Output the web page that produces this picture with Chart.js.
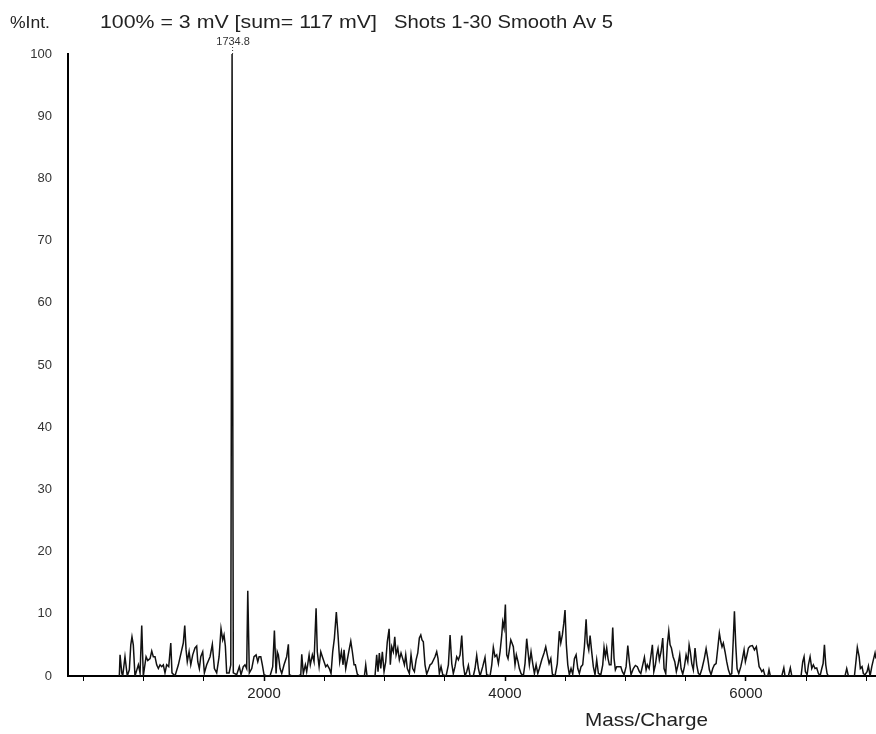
<!DOCTYPE html>
<html>
<head>
<meta charset="utf-8">
<script src="https://cdn.jsdelivr.net/npm/chart.js@4.4.1/dist/chart.umd.min.js"></script>
<style>
  html, body { margin: 0; padding: 0; background: #fff; }
  canvas { display: block; }
</style>
</head>
<body>
<canvas id="c" width="876" height="734"></canvas>
<script>
// ---- data ----
const headerLeft = '%Int.';
const headerMain = '100% = 3 mV [sum= 117 mV]';
const headerShots = 'Shots 1-30 Smooth Av 5';
const xAxisTitle = 'Mass/Charge';
const peakMass = 1734.8;
const xMin = 373, xMax = 7079;
const yTicks = [0, 10, 20, 30, 40, 50, 60, 70, 80, 90, 100];
const xTicks = [500, 1000, 1500, 2000, 2500, 3000, 3500, 4000, 4500, 5000, 5500, 6000, 6500, 7000];
const xLabelTicks = [2000, 4000, 6000];

const masses = [
 799,805,819,827,846,865,882,894,904,915,929,957,971,985,998,1021,1035,1054,1068,1081,
 1095,1109,1123,1137,1151,1164,1178,1192,1209,1226,1236,1261,1289,1317,1330,1342,1353,1363,1378,1392,
 1408,1427,1441,1450,1463,1475,1491,1505,1524,1552,1571,1588,1607,1627,1643,1657,1668,1679,1690,1710,
 1724,1734.8,1745,1773,1795,1809,1828,1842,1856,1865,1878,1898,1917,1934,1948,1959,1973,1986,2000,2022,
 2050,2072,2086,2100,2110,2119,2133,2147,2166,2188,2202,2210,2230,2285,2305,2313,2326,2343,2354,2374,
 2384,2401,2415,2432,2442,2457,2471,2484,2498,2512,2525,2542,2556,2570,2584,2600,2614,2628,2642,2656,
 2664,2678,2691,2706,2720,2733,2747,2758,2774,2791,2833,2844,2855,2921,2935,2946,2957,2969,2982,2996,
 3010,3023,3038,3048,3060,3073,3085,3096,3110,3123,3137,3151,3165,3176,3189,3206,3220,3234,3248,3262,
 3276,3289,3301,3311,3322,3336,3350,3364,3378,3392,3419,3433,3444,3455,3469,3483,3511,3530,3544,3558,
 3571,3585,3599,3613,3627,3641,3654,3668,3682,3696,3710,3737,3751,3765,3779,3793,3815,3834,3848,3876,
 3890,3903,3917,3931,3945,3959,3973,3981,3992,4003,4014,4025,4036,4048,4058,4069,4083,4094,4108,4119,
 4133,4152,4166,4180,4191,4202,4216,4230,4244,4258,4272,4285,4305,4324,4338,4351,4366,4380,4393,4415,
 4434,4451,4463,4476,4488,4498,4509,4521,4534,4548,4562,4576,4590,4604,4617,4631,4645,4659,4673,4683,
 4695,4706,4720,4733,4747,4761,4775,4795,4811,4822,4833,4844,4855,4866,4880,4894,4905,4916,4927,4944,
 4961,4974,4988,5005,5019,5032,5046,5065,5082,5098,5115,5127,5143,5157,5171,5181,5196,5210,5223,5235,
 5248,5259,5270,5281,5295,5309,5320,5334,5347,5359,5370,5381,5395,5409,5422,5436,5450,5461,5475,5489,
 5503,5517,5528,5538,5550,5563,5577,5591,5605,5619,5635,5654,5669,5683,5696,5710,5724,5738,5752,5766,
 5779,5791,5801,5812,5826,5840,5854,5868,5882,5895,5904,5915,5926,5940,5957,5970,5984,5995,6006,6020,
 6034,6053,6070,6086,6098,6109,6119,6131,6144,6158,6181,6191,6202,6297,6314,6324,6352,6368,6380,6457,
 6471,6482,6493,6507,6518,6532,6546,6559,6573,6587,6601,6615,6629,6640,6651,6662,6673,6684,6822,6836,
 6850,6900,6914,6924,6939,6949,6963,6974,6988,7005,7016,7030,7044,7057,7071,7079
];
const intensities = [
 0,3.4,0.5,0,3.1,0,1,5,6.3,5,0,1.8,0.5,8.1,0,3.1,2.5,2.8,4,3.1,
 3.1,1.8,1.2,1.8,1.5,1.8,0.5,1.8,1.5,5.3,0.5,0,1.8,4.2,5.3,8.1,4.2,2.3,3.9,1.8,
 3.4,4.5,4.8,2.3,1.2,3.1,3.9,0.5,1.8,3.1,5.1,1.2,0.5,3.1,7.6,5.8,6.6,4.8,0.5,0.5,
 1.8,100,0.5,0.2,1.5,0.2,1.5,1.8,1.2,13.7,0.5,1.2,3.1,3.4,2.3,3.1,3.1,1.8,0.2,0,
 0,1.5,7.3,0.4,3.9,3.4,1.2,0.4,1.8,3.1,5.1,0.2,0,0,0.2,3.5,0.4,1.8,0.7,3.4,
 1.8,3.4,2.3,10.9,3.9,1.5,3.9,3.1,2.3,1.5,1.8,1.2,0.4,3.9,6.1,10.3,6.6,2.3,3.9,1.8,
 4.2,1.2,2.6,4.2,5.6,3.9,1.8,1.8,0.3,0,0,1.8,0,0,3.4,0.7,3.7,1.2,3.9,0.7,
 2.3,5.5,7.6,1.8,4.7,3.9,6.3,3.4,4.5,2.6,3.7,2.8,1.8,3.4,1.2,0.4,3.4,1.2,0.7,2.6,
 3.7,6.1,6.6,5.8,5.5,1.8,0.3,1,1.8,2,3.1,3.9,2.8,0.4,1.5,0.2,0,1.8,6.6,2,
 0.4,1.5,3.1,2.6,3.4,6.5,1.8,0,0.7,1.7,0,0,1.2,3.3,1.2,0,1.5,3,0.2,0,
 1.8,4.6,3.1,3.4,2,3.9,6.6,8.7,7.7,11.5,3.4,2.8,4.2,5.8,5.3,4.7,1.8,3.4,2.3,1.2,
 0.4,0,2,6,3.9,1.8,3.9,2,0.4,1.8,0.4,1.2,2.6,3.7,4.7,3.4,2,2.8,0.3,0,
 2,7.2,5.3,6.6,8.5,10.6,5,1.8,0.2,1.2,0.3,2.8,3.4,1.2,0.4,1.5,1.8,4.7,9.1,5.3,
 4.2,6.5,3.8,1.5,0.2,2.6,0.4,0.2,1.8,4.6,3.1,4.5,2.8,1.8,1.8,7.8,2.8,1,1.5,1.5,
 1.5,0.7,0.2,1.5,4.9,2.3,0.2,1.2,1.7,1.5,0.7,0.4,1.8,3,1,1.8,1.2,3.1,5,0.7,
 1.8,3.4,4.4,2.6,3.9,6.1,1.2,0.4,5,7.2,5,4.5,3.1,2.3,0.7,1.8,3.4,1.2,0.3,1.5,
 3.4,2.3,5,3.9,2,1,4.5,1.8,0.4,0.2,1.2,2.8,4.4,2.8,1,0.2,1.2,1.8,2,4.5,
 6.9,5.5,4.7,5.3,3.9,2.3,1,0.2,0.4,6.1,10.4,5,1.2,0.4,1.5,2.7,4.2,2.3,3.2,4.5,
 4.8,4.9,4.2,4.7,3.1,1.5,1.2,0.7,1,0,0,1,0,0,1.3,0,0,1.3,0,0,
 2.3,3.1,0.7,0.2,1.8,3.1,1.2,1.8,1.2,1.3,0.4,0,1.2,2,5,1.8,0.4,0,0,1.2,
 0,0,2.6,4.6,3.1,1.2,1.5,0.4,0.2,0.7,1.6,0,1.5,2.6,3.7,2.8
];

// ---- rendering ----
const FONT = '"Liberation Sans", Arial, Helvetica, sans-serif';

const bgPlugin = {
  id: 'bg',
  beforeDraw(chart) {
    const c = chart.ctx;
    c.save(); c.fillStyle = '#fff'; c.fillRect(0, 0, chart.width, chart.height); c.restore();
  }
};

const annotPlugin = {
  id: 'annot',
  afterDraw(chart) {
    const c = chart.ctx;
    const xs = chart.scales.x, ys = chart.scales.y;
    function stretched(text, x, y, size, width, color) {
      c.save();
      c.font = size + 'px ' + FONT;
      c.fillStyle = color;
      c.textAlign = 'left';
      c.textBaseline = 'alphabetic';
      const w = c.measureText(text).width;
      c.translate(x, y);
      c.scale(width / w, 1);
      c.fillText(text, 0, 0);
      c.restore();
    }
    stretched(headerLeft, 10, 28, 17, 40, '#222');
    stretched(headerMain, 100, 28, 18, 277, '#222');
    stretched(headerShots, 394, 28, 18, 219, '#222');
    stretched(xAxisTitle, 585, 726, 19, 123, '#222');

    // peak annotation
    const px = xs.getPixelForValue(peakMass);
    const top = ys.getPixelForValue(100);
    c.save();
    c.strokeStyle = '#333';
    c.lineWidth = 1;
    c.setLineDash([1, 2]);
    c.beginPath();
    c.moveTo(px + 0.5, top);
    c.lineTo(px + 0.5, top - 7);
    c.stroke();
    c.restore();
    c.save();
    c.font = '11px ' + FONT;
    c.fillStyle = '#333';
    c.textAlign = 'center';
    c.textBaseline = 'alphabetic';
    c.fillText(peakMass.toFixed(1), px + 1, top - 9);
    c.restore();
  }
};

const points = masses.map((m, i) => ({ x: m, y: intensities[i] }));

new Chart(document.getElementById('c'), {
  type: 'line',
  data: {
    datasets: [{
      data: points,
      borderColor: '#111',
      borderWidth: 1.5,
      pointRadius: 0,
      tension: 0,
      fill: false
    }]
  },
  options: {
    responsive: false,
    devicePixelRatio: 1,
    animation: false,
    layout: { padding: { top: 54, right: 0, left: 0, bottom: 0 } },
    plugins: { legend: { display: false }, tooltip: { enabled: false }, title: { display: false } },
    scales: {
      x: {
        type: 'linear',
        min: xMin,
        max: xMax,
        afterFit(s) { s.height = 58; },
        afterBuildTicks(s) { s.ticks = xTicks.map(v => ({ value: v })); },
        border: { display: true, color: '#000', width: 2 },
        grid: {
          display: true,
          drawOnChartArea: false,
          drawTicks: true,
          tickLength: 5,
          tickColor: '#000',
          tickWidth: (ctx) => (ctx.tick && xLabelTicks.includes(ctx.tick.value)) ? 1.5 : 1
        },
        ticks: {
          autoSkip: false,
          maxRotation: 0,
          padding: 4,
          color: '#222',
          font: { family: FONT, size: 15 },
          callback: (v) => xLabelTicks.includes(v) ? String(v) : ''
        }
      },
      y: {
        type: 'linear',
        min: 0,
        max: 100,
        afterFit(s) { s.width = 68; },
        afterBuildTicks(s) { s.ticks = yTicks.map(v => ({ value: v })); },
        border: { display: true, color: '#000', width: 2 },
        grid: { display: false, drawTicks: false },
        ticks: {
          padding: 16,
          color: '#333',
          font: { family: FONT, size: 13 },
          callback: (v) => String(v)
        }
      }
    }
  },
  plugins: [bgPlugin, annotPlugin]
});
</script>
</body>
</html>
